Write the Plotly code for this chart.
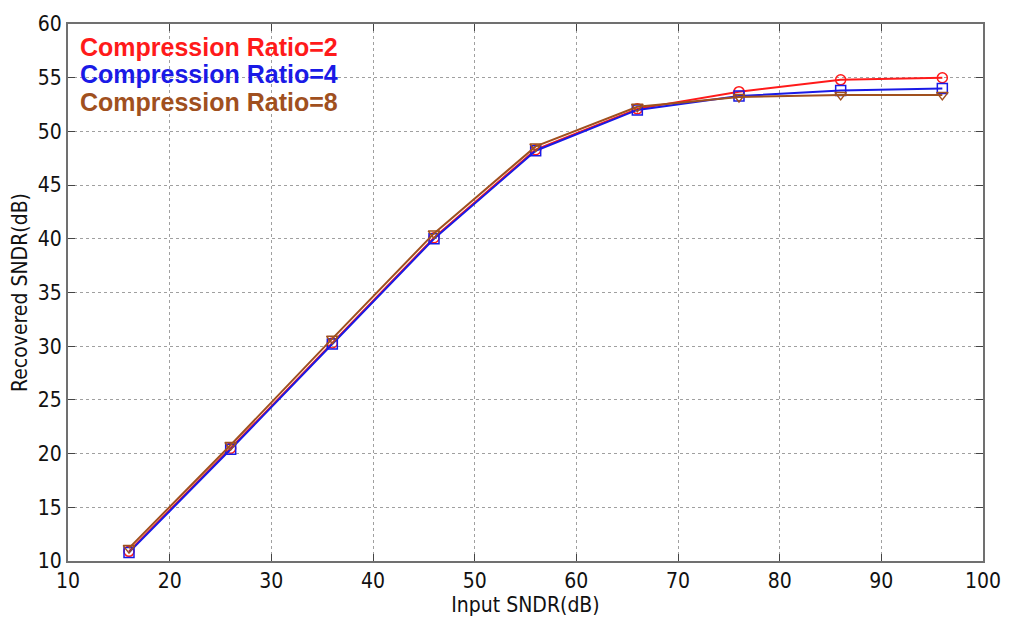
import plotly.graph_objects as go

x_vals = [16, 26, 36, 46, 56, 66, 76, 86, 96]
cr2 = [10.9, 20.5, 30.3, 40.1, 48.3, 52.1, 53.7, 54.8, 55.0]
cr4 = [10.8, 20.4, 30.2, 40.0, 48.2, 52.0, 53.3, 53.8, 54.0]
cr8 = [11.2, 20.8, 30.7, 40.5, 48.6, 52.3, 53.2, 53.4, 53.4]
series_names = ["Compression Ratio=2", "Compression Ratio=4", "Compression Ratio=8"]
colors = ["#FF1A1A", "#1A1AE6", "#A0501E"]
symbols = ["circle-open", "square-open", "triangle-down-open"]
x_ticks = [10, 20, 30, 40, 50, 60, 70, 80, 90, 100]
y_ticks = [10, 15, 20, 25, 30, 35, 40, 45, 50, 55, 60]

TICK_FONT = "DejaVu Sans Condensed, Liberation Sans Narrow, Liberation Sans"

fig = go.Figure()
for ys, name, c, s in zip([cr2, cr4, cr8], series_names, colors, symbols):
    fig.add_trace(go.Scatter(
        x=x_vals, y=ys, mode="lines+markers", name=name,
        line=dict(color=c, width=2),
        marker=dict(symbol=s, size=10, color=c, line=dict(width=1.5, color=c)),
        showlegend=False,
    ))

for i, (name, c) in enumerate(zip(series_names, colors)):
    fig.add_annotation(
        x=0.011, y=0.957 - i * 0.051, xref="paper", yref="paper",
        xanchor="left", yanchor="middle", text="<b>%s</b>" % name,
        showarrow=False, font=dict(family="Liberation Sans, Arial", size=25, color=c),
    )

axis_common = dict(
    showgrid=True, gridcolor="#A0A0A0", griddash="dot", gridwidth=1,
    showline=True, linecolor="#707070", linewidth=2, mirror="ticks",
    ticks="inside", ticklen=7, tickcolor="#444444",
    zeroline=False,
    tickfont=dict(family=TICK_FONT, size=21, color="#111111"),
)

fig.update_xaxes(range=[10, 100], tickvals=x_ticks, **axis_common,
                 title=dict(text="Input SNDR(dB)", standoff=3,
                            font=dict(family=TICK_FONT, size=21, color="#111111")))
fig.update_yaxes(range=[10, 60], tickvals=y_ticks, **axis_common,
                 title=dict(text="Recovered SNDR(dB)", standoff=4,
                            font=dict(family=TICK_FONT, size=21, color="#111111")))

fig.update_layout(
    width=1013, height=628,
    margin=dict(l=68, r=23, t=14, b=67),
    plot_bgcolor="white", paper_bgcolor="white",
)

fig.write_html("out.html")
